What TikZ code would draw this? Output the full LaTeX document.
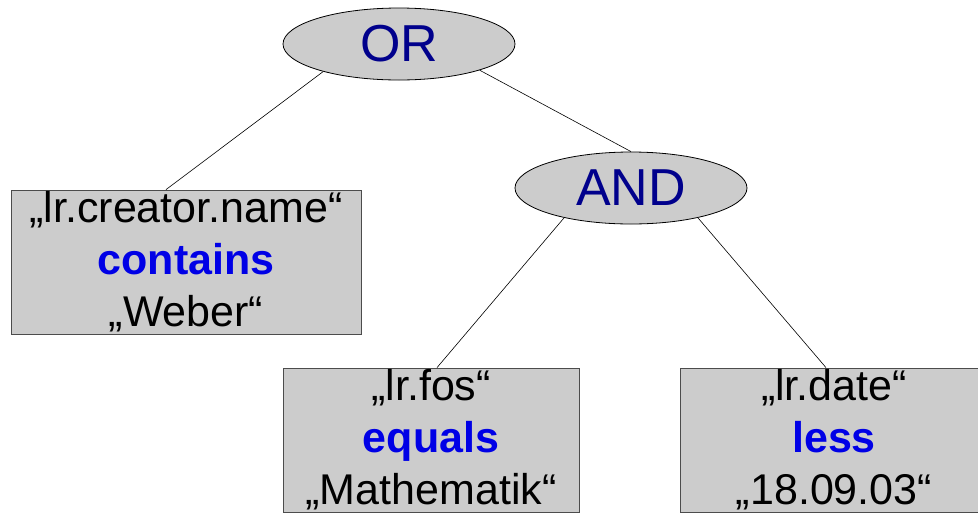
\documentclass[tikz,border=0pt]{standalone}
\usepackage{fontspec}
\setmainfont{Liberation Sans}
\usetikzlibrary{shapes.geometric}
\definecolor{opblue}{RGB}{0,0,140}
\definecolor{cmpblue}{RGB}{0,0,230}
\definecolor{nodegray}{RGB}{204,204,204}
\newcommand{\cmpop}[1]{\textcolor{cmpblue}{\textbf{#1}}}

\begin{document}
\begin{tikzpicture}[x=1pt, y=-1pt,
  opnode/.style={ellipse, draw, line width=0.8pt, fill=nodegray,
    minimum width=232pt, minimum height=72pt, inner sep=0pt,
    text=opblue, font=\fontsize{52}{62}\selectfont},
  leaf/.style={rectangle, draw=black!70, line width=0.8pt, fill=nodegray,
    minimum height=144pt, inner sep=0pt, align=center,
    font=\fontsize{43}{52}\selectfont},
  edge/.style={line width=0.6pt}]

% paper size:
\pgfmathsetmacro\pwidth{978};
\pgfmathsetmacro\pheight{512};

\useasboundingbox (0,0) rectangle (\pwidth,\pheight);
\clip (0,0) rectangle (\pwidth,\pheight);

% operators
\node[opnode] (or) at (399,44) {OR};
\node[opnode] (and) at (631,188) {AND};

% conditions
\node[leaf, minimum width=350pt] (creator) at (186,262)
  {„lr.creator.name“\\\cmpop{contains}\\„Weber“};
\node[leaf, minimum width=296pt] (fos) at (431,440)
  {„lr.fos“\\\cmpop{equals}\\„Mathematik“};
\node[leaf, minimum width=308pt] (date) at (834,440)
  {„lr.date“\\\cmpop{less}\\„18.09.03“};

\draw[edge] (or.200) -- ([xshift=-20pt]creator.north);
\draw[edge] (or.342) -- (and.north);
\draw[edge] (and.204) -- ([xshift=6pt]fos.north);
\draw[edge] (and.336) -- ([xshift=-8pt]date.north);

\end{tikzpicture}
\end{document}
